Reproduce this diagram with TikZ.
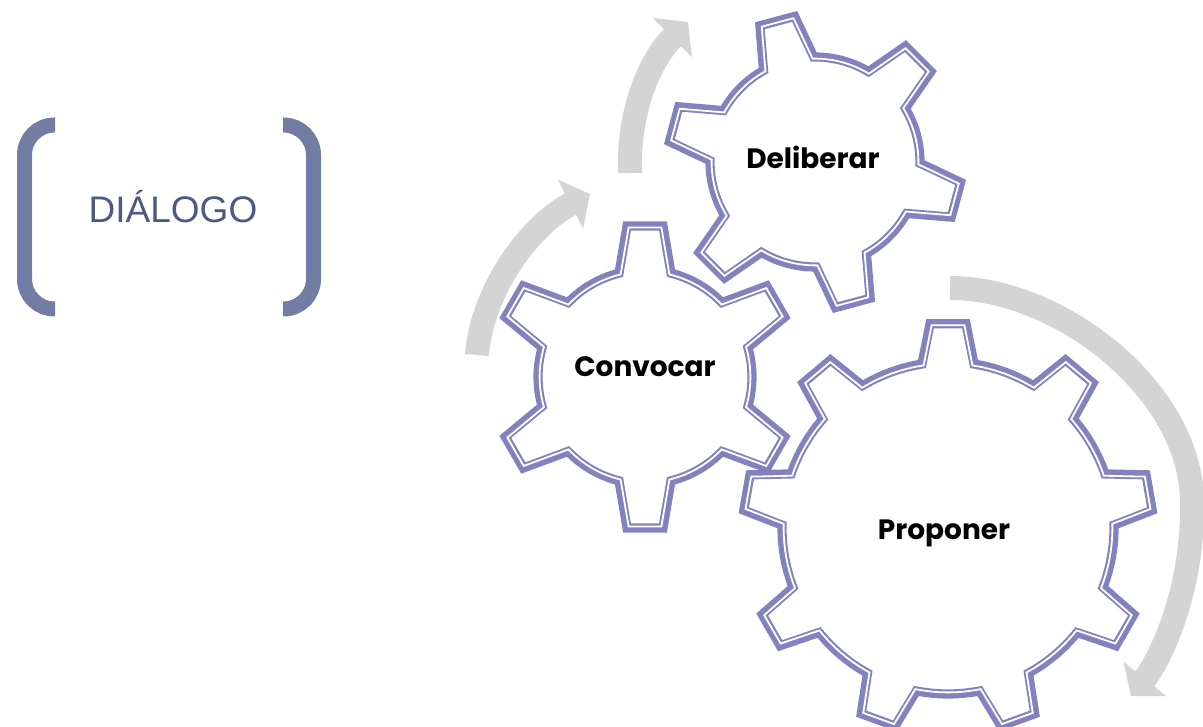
\documentclass[tikz,border=0pt]{standalone}
\usepackage{fontspec}
\setmainfont{Liberation Sans}
\newfontfamily\gearfont{Poppins}
\usepackage{tikz}
\usetikzlibrary{arrows.meta}
\usepackage{xcolor}

\definecolor{gearcol}{RGB}{132,130,190}
\definecolor{arrowgray}{RGB}{212,212,212}
\definecolor{bracketcol}{RGB}{115,124,162}
\definecolor{titlecol}{RGB}{78,88,133}

\tikzset{
  gearline/.style={draw=gearcol, line width=4.6pt},
  gearinner/.style={draw=white, line width=0.9pt},
  gearlabel/.style={font=\gearfont\bfseries\fontsize{14}{16}\selectfont, inner sep=0pt},
  turnarrow/.style={draw=arrowgray, line width=12pt, -{Triangle[width=27pt,length=11pt]}},
  bracketline/.style={draw=bracketcol, line width=7.5pt, rounded corners=15pt},
  titlelabel/.style={font=\fontsize{18.5}{22}\selectfont, text=titlecol, inner sep=0pt}
}

% one ring of a gear: centre, teeth, first tooth angle, tip radius, root radius, inset, style
\newcommand{\gearring}[7]{%
  \begin{scope}[shift={#1}]
    \pgfmathsetmacro\gstep{360/#2}
    \pgfmathsetmacro\gR{#4-#6}
    \pgfmathsetmacro\gr{#5-#6}
    \pgfmathsetmacro\gtip{asin((18-#6)/\gR)}
    \pgfmathsetmacro\groot{asin((26-#6)/\gr)}
    \pgfmathtruncatemacro\glast{#2-1}
    \draw[#7] ({#3-\groot}:\gr)
      \foreach \k in {0,...,\glast} {
        -- ({#3+\k*\gstep-\gtip}:\gR) -- ({#3+\k*\gstep+\gtip}:\gR)
        -- ({#3+\k*\gstep+\groot}:\gr)
        arc[start angle={#3+\k*\gstep+\groot}, end angle={#3+(\k+1)*\gstep-\groot}, radius=\gr]
      } -- cycle;
  \end{scope}}
\newcommand{\gearoutline}[5]{%
  \gearring{#1}{#2}{#3}{#4}{#5}{0}{gearline}
  \gearring{#1}{#2}{#3}{#4}{#5}{1.6}{gearinner}}

\begin{document}
\begin{tikzpicture}[x=0.5pt,y=0.5pt]
  \useasboundingbox (0,0) rectangle (1203,727);

  % title between brackets
  \node[titlelabel] (dialogo) at (173,520) {DIÁLOGO};
  \draw[bracketline] (55,602) -- (24.5,602) -- (24.5,418) -- (55,418);
  \draw[bracketline] (283,602) -- (313.5,602) -- (313.5,418) -- (283,418);

  % turning arrows
  \coordinate (a1) at (477,372);
  \coordinate (a2) at (590,533);
  \coordinate (b1) at (630,554);
  \coordinate (b2) at (688,705);
  \coordinate (c1) at (950,439);
  \coordinate (c2) at (1192,227);
  \coordinate (c3) at (1131,31);
  \draw[turnarrow] (a1) .. controls (482,437) and (530,502) .. (a2);
  \draw[turnarrow] (b1) .. controls (628,617) and (650,667) .. (b2);
  \draw[turnarrow] (c1) .. controls (1060,439) and (1190,337) .. (c2)
    .. controls (1194,137) and (1160,67) .. (c3);

  % gears
  \gearoutline{(645,350)}{6}{90}{152}{107}
  \gearoutline{(815,565)}{6}{105}{147}{105}
  \gearoutline{(948,199)}{9}{90}{205}{166}
  \node[gearlabel] (convocar) at (645,360) {Convocar};
  \node[gearlabel] (deliberar) at (813,570) {Deliberar};
  \node[gearlabel] (proponer) at (944,194) {Proponer};
\end{tikzpicture}
\end{document}
